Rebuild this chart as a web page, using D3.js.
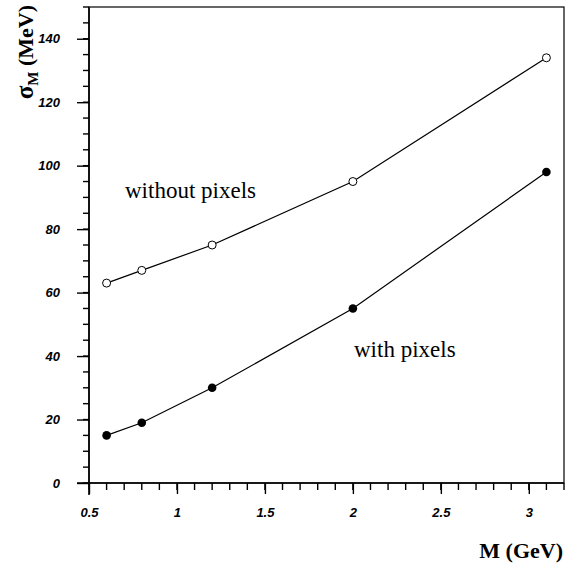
<!DOCTYPE html>
<html><head><meta charset="utf-8">
<script src="https://cdn.jsdelivr.net/npm/d3@7"></script>
<style>body{margin:0;background:#fff}svg{display:block}</style>
</head><body>
<script>
const massGeV = [0.6, 0.8, 1.2, 2.0, 3.1];
const withoutPixels = [63, 67, 75, 95, 134];
const withPixels = [15, 19, 30, 55, 98];
const xTicks = [0.5, 1, 1.5, 2, 2.5, 3];
const yTicks = [0, 20, 40, 60, 80, 100, 120, 140];

const W = 565, H = 569;
const svg = d3.select("body").append("svg").attr("width", W).attr("height", H);
const x = d3.scaleLinear().domain([0.5, 3.2]).range([89, 564]);
const y = d3.scaleLinear().domain([0, 150]).range([483, 7]);

svg.append("rect").attr("x", 89).attr("y", 7).attr("width", 475).attr("height", 476)
  .attr("fill", "none").attr("stroke", "#000").attr("stroke-width", 1.2);

const xMinor = d3.range(0.5, 3.2001, 0.1);
svg.append("g").selectAll("line").data(xMinor).join("line")
  .attr("x1", d => x(d)).attr("x2", d => x(d)).attr("y1", 483).attr("y2", 490)
  .style("stroke", "#000").style("stroke-width", "1.4px");
const yMinor = d3.range(0, 150.001, 5);
svg.append("g").selectAll("line").data(yMinor).join("line")
  .attr("y1", d => y(d)).attr("y2", d => y(d)).attr("x1", 83).attr("x2", 89)
  .style("stroke", "#000").style("stroke-width", "1.4px");

const xAxis = d3.axisBottom(x).tickValues(xTicks).tickSize(11).tickPadding(14)
  .tickFormat(d => d3.format("")(d));
const gx = svg.append("g").attr("transform", "translate(0,483)").call(xAxis);
gx.select(".domain").remove();
const yAxis = d3.axisLeft(y).tickValues(yTicks).tickSize(12).tickPadding(17);
const gy = svg.append("g").attr("transform", "translate(89,0)").call(yAxis);
gy.select(".domain").remove();
[gx, gy].forEach(g => {
  g.selectAll(".tick line").style("stroke", "#000").style("stroke-width", "1.4px");
  g.selectAll(".tick text").style("font-family", "'Liberation Sans', Arial, sans-serif")
    .style("font-weight", "bold").style("font-style", "italic").style("font-size", "13px").style("fill", "#000");
});
svg.append("line").attr("x1", 77).attr("x2", 564).attr("y1", 483).attr("y2", 483)
  .style("stroke", "#000").style("stroke-width", "1.6px");
svg.append("line").attr("x1", 89).attr("x2", 89).attr("y1", 7).attr("y2", 495)
  .style("stroke", "#000").style("stroke-width", "1.6px");

const line = d3.line().x((d, i) => x(massGeV[i])).y(d => y(d));
svg.append("path").datum(withoutPixels).attr("d", line).attr("fill", "none")
  .attr("stroke", "#000").attr("stroke-width", 1.2);
svg.append("path").datum(withPixels).attr("d", line).attr("fill", "none")
  .attr("stroke", "#000").attr("stroke-width", 1.2);

svg.append("g").selectAll("circle").data(withoutPixels).join("circle")
  .attr("cx", (d, i) => x(massGeV[i])).attr("cy", d => y(d)).attr("r", 4)
  .attr("fill", "#fff").attr("stroke", "#000").attr("stroke-width", 1);
svg.append("g").selectAll("circle").data(withPixels).join("circle")
  .attr("cx", (d, i) => x(massGeV[i])).attr("cy", d => y(d)).attr("r", 4.3)
  .attr("fill", "#000");

const serif = "Liberation Serif, Times New Roman, serif";
svg.append("text").attr("x", 125).attr("y", 198).attr("font-family", serif)
  .attr("font-size", 23).text("without pixels");
svg.append("text").attr("x", 354).attr("y", 357).attr("font-family", serif)
  .attr("font-size", 23).text("with pixels");

svg.append("text").attr("x", 563).attr("y", 558).attr("text-anchor", "end")
  .attr("font-family", serif).attr("font-weight", "bold").attr("font-size", 22).text("M (GeV)");

const yt = svg.append("text").attr("transform", "translate(33,5) rotate(-90)")
  .attr("text-anchor", "end").attr("font-family", serif).attr("font-weight", "bold").attr("font-size", 22);
yt.append("tspan").attr("font-size", 25).text("σ");
yt.append("tspan").attr("dy", 5).attr("font-size", 15).text("M");
yt.append("tspan").attr("dy", -5).text(" (MeV)");
</script>
</body></html>
